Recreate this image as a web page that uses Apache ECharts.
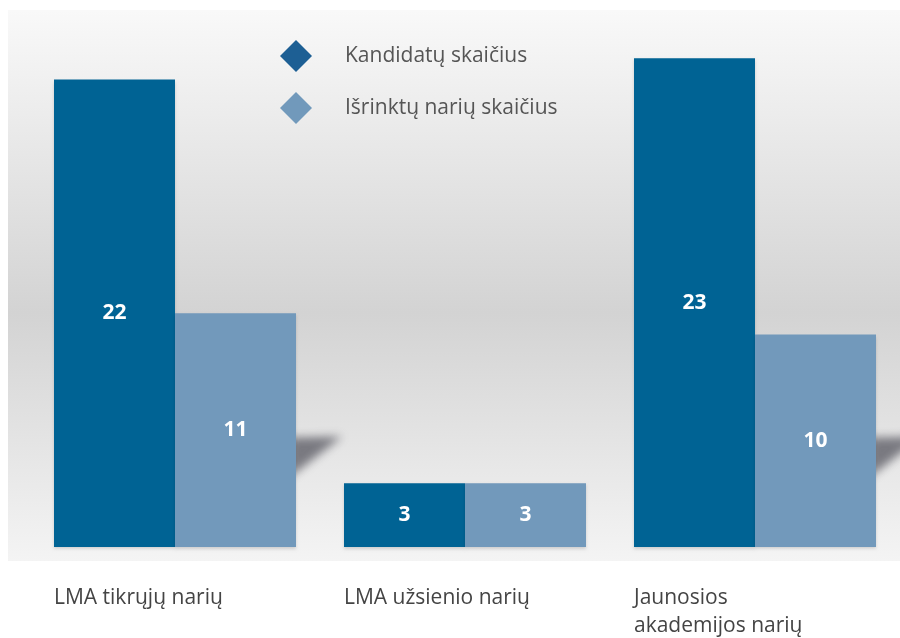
<!DOCTYPE html>
<html>
<head>
<meta charset="utf-8">
<script src="https://cdn.jsdelivr.net/npm/echarts@6/dist/echarts.min.js"></script>
<style>
  html, body { margin: 0; padding: 0; background: #fff; }
  #chart { width: 900px; height: 638px; }
</style>
</head>
<body>
<div id="chart"></div>
<script>
// categories and values
const categories = ["LMA tikrųjų narių", "LMA užsienio narių", "Jaunosios\nakademijos narių"];
const candidates = [22, 3, 23];
const elected = [11, 3, 10];
const seriesNames = ["Kandidatų skaičius", "Išrinktų narių skaičius"];

const darkBlue = "#006394";
const lightBlue = "#7299bb";

const chart = echarts.init(document.getElementById("chart"), null, { renderer: "canvas" });

// soft floor shadow to the right of the tall groups:
// the shape itself sits off-canvas, only its blurred shadow shows
const shift = 2000;
const shadowItem = (params, api) => {
  const idx = api.value(0);
  if (candidates[idx] < 5) return null;
  const center = api.coord([idx, 0]);
  const xr = center[0] + 121 - shift;
  const yTop = api.coord([idx, 5.15])[1];
  const yLow = api.coord([idx, 3.3])[1];
  return {
    type: "polygon",
    shape: { points: [[xr - 6, yTop], [xr + 46, yTop - 1], [xr - 6, yLow]] },
    style: {
      fill: "#000",
      shadowBlur: 10,
      shadowOffsetX: shift,
      shadowColor: "rgba(115,115,122,0.95)"
    },
    z2: 0
  };
};

const option = {
  animation: false,
  graphic: [
    {
      type: "rect",
      z: -10,
      shape: { x: 8, y: 10, width: 892, height: 551 },
      style: {
        fill: {
          type: "linear", x: 0, y: 0, x2: 0, y2: 1,
          colorStops: [
            { offset: 0, color: "#f9f9f9" },
            { offset: 0.55, color: "#d3d3d3" },
            { offset: 1, color: "#f4f4f4" }
          ]
        }
      }
    }
  ],
  legend: {
    orient: "vertical",
    left: 275,
    top: 35,
    itemWidth: 32,
    itemHeight: 32,
    itemGap: 20,
    icon: "diamond",
    data: [
      { name: seriesNames[0], itemStyle: { color: "#1d5f94" } },
      { name: seriesNames[1], itemStyle: { color: "#7199bb" } }
    ],
    textStyle: {
      fontFamily: "Open Sans",
      fontSize: 21,
      color: "#555",
      padding: [0, 0, 6, 28]
    }
  },
  grid: { left: 30, right: 0, top: 15.75, bottom: 91 },
  xAxis: {
    type: "category",
    data: categories,
    axisLine: { show: false },
    axisTick: { show: false },
    axisLabel: {
      margin: 37,
      formatter: (v) => "{a|" + v + "}",
      rich: {
        a: {
          width: 242,
          align: "left",
          fontFamily: "Open Sans",
          fontSize: 21,
          lineHeight: 28,
          color: "#444"
        }
      }
    }
  },
  yAxis: {
    type: "value",
    min: 0,
    max: 25,
    show: false,
    splitLine: { show: false }
  },
  series: [
    {
      type: "custom",
      silent: true,
      z: 1,
      clip: false,
      data: categories.map((c, i) => [i]),
      renderItem: shadowItem
    },
    {
      name: seriesNames[0],
      type: "bar",
      z: 2,
      data: candidates,
      barWidth: 121,
      barGap: 0,
      itemStyle: {
        color: darkBlue,
        shadowBlur: 3,
        shadowOffsetY: 2,
        shadowColor: "rgba(0,0,0,0.15)"
      },
      label: {
        show: true,
        position: "inside",
        color: "#fff",
        fontFamily: "Open Sans",
        fontWeight: "bold",
        fontSize: 21
      }
    },
    {
      name: seriesNames[1],
      type: "bar",
      z: 2,
      data: elected,
      barWidth: 121,
      barGap: 0,
      itemStyle: {
        color: lightBlue,
        shadowBlur: 3,
        shadowOffsetY: 2,
        shadowColor: "rgba(0,0,0,0.15)"
      },
      label: {
        show: true,
        position: "inside",
        color: "#fff",
        fontFamily: "Open Sans",
        fontWeight: "bold",
        fontSize: 21
      }
    }
  ]
};

chart.setOption(option);
</script>
</body>
</html>
